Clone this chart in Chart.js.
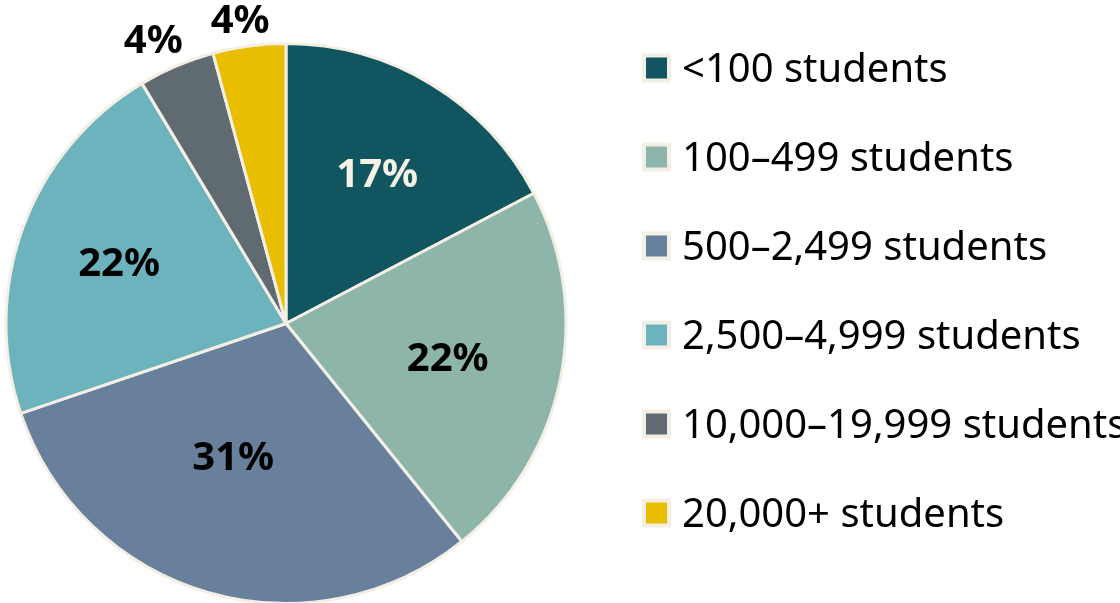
<!DOCTYPE html>
<html>
<head>
<meta charset="utf-8">
<script src="https://cdn.jsdelivr.net/npm/chart.js@4/dist/chart.umd.min.js"></script>
<style>
  html, body { margin: 0; padding: 0; background: #fff; overflow: hidden; }
  #wrap { width: 1120px; height: 603px; overflow: hidden; }
</style>
</head>
<body>
<div id="wrap"><canvas id="pieChart" width="1120" height="605"></canvas></div>
<script>
// datos
const categorias = ["<100 students", "100–499 students", "500–2,499 students", "2,500–4,999 students", "10,000–19,999 students", "20,000+ students"];
const porcentajes = [17.3, 21.9, 30.6, 21.6, 4.4, 4.2];

// estilos
const colores = ["#10555f", "#8db5aa", "#68809c", "#6db3be", "#5f6b70", "#e9bd00"];
const colorBorde = "#f3efe4";
const colorEtiqueta = ["#f6f2e6", "#000", "#000", "#000", "#000", "#000"];
const distEtiqueta = [0.63, 0.59, 0.51, 0.635, 1.12, 1.10];
const giroEtiqueta = [0, 0, 5.5, 0, -2, -1];

const FUENTE = "'Noto Sans', 'Open Sans', sans-serif";

// etiquetas de porcentaje sobre cada porcion
const etiquetasPlugin = {
  id: 'etiquetas',
  afterDatasetsDraw(chart) {
    const ctx = chart.ctx;
    const arcs = chart.getDatasetMeta(0).data;
    ctx.save();
    ctx.font = "bold 40px " + FUENTE;
    ctx.textAlign = 'center';
    ctx.textBaseline = 'alphabetic';
    arcs.forEach((arc, i) => {
      const mid = (arc.startAngle + arc.endAngle) / 2 + giroEtiqueta[i] * Math.PI / 180;
      const d = arc.outerRadius * distEtiqueta[i];
      const x = arc.x + Math.cos(mid) * d;
      const y = arc.y + Math.sin(mid) * d;
      ctx.fillStyle = colorEtiqueta[i];
      ctx.fillText(Math.round(porcentajes[i]) + '%', x, y + 14);
    });
    ctx.restore();
  }
};

// leyenda a la derecha
const leyendaPlugin = {
  id: 'leyenda',
  afterDraw(chart) {
    const ctx = chart.ctx;
    ctx.save();
    ctx.font = "40px " + FUENTE;
    ctx.textAlign = 'left';
    ctx.textBaseline = 'alphabetic';
    categorias.forEach((cat, i) => {
      const cy = 68 + 89 * i;
      ctx.fillStyle = colorBorde;
      ctx.fillRect(642, cy - 14.5, 29, 29);
      ctx.fillStyle = colores[i];
      ctx.fillRect(646, cy - 10.5, 21, 21);
      ctx.fillStyle = '#000';
      ctx.fillText(cat, 682, cy + 14);
    });
    ctx.restore();
  }
};

new Chart(document.getElementById("pieChart"), {
  type: "pie",
  data: {
    labels: categorias,
    datasets: [{
      data: porcentajes,
      backgroundColor: colores,
      borderColor: colorBorde,
      borderWidth: 3
    }]
  },
  options: {
    responsive: false,
    animation: false,
    devicePixelRatio: 1,
    layout: { padding: { top: 42, right: 548, left: 0, bottom: 0 } },
    plugins: {
      legend: { display: false },
      tooltip: { enabled: false }
    }
  },
  plugins: [etiquetasPlugin, leyendaPlugin]
});
</script>
</body>
</html>
